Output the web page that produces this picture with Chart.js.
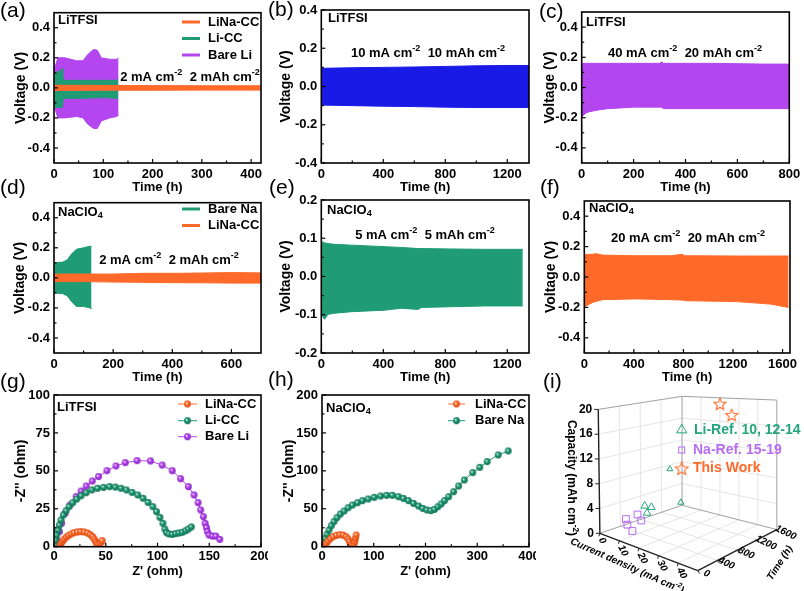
<!DOCTYPE html>
<html><head><meta charset="utf-8">
<script src="https://cdn.jsdelivr.net/npm/chart.js@4.4.1/dist/chart.umd.min.js"></script>
<style>
html,body{margin:0;padding:0;background:#fff;}
#wrap{position:relative;width:804px;height:591px;overflow:hidden;background:#fff;}
#wrap canvas{position:absolute;}
.pl{position:absolute;z-index:5;font-family:"Liberation Sans",Arial,sans-serif;font-size:21px;line-height:22px;color:#000;white-space:nowrap;}
</style></head><body>
<div id="wrap">
<div class="pl" style="left:0px;top:-1px">(a)</div>
<div class="pl" style="left:268px;top:-2px">(b)</div>
<div class="pl" style="left:539px;top:0px">(c)</div>
<div class="pl" style="left:0px;top:176px">(d)</div>
<div class="pl" style="left:269px;top:176px">(e)</div>
<div class="pl" style="left:540px;top:176px">(f)</div>
<div class="pl" style="left:0px;top:370px">(g)</div>
<div class="pl" style="left:268px;top:368px">(h)</div>
<div class="pl" style="left:543px;top:370px">(i)</div>
</div>
<script>
// ================= DATA =================
const vYTicks=[-0.4,-0.2,0,0.2,0.4];
// (a) LiTFSI 2 mA cm-2
const aXTicks=[0,100,200,300,400];
const aBareLiT=[0,8,22,46,59,68,80,88,96,113,128,131];
const aBareLiUp=[0.12,0.2,0.2,0.18,0.18,0.22,0.255,0.25,0.2,0.19,0.19,0.2];
const aBareLiLo=[-0.12,-0.2,-0.2,-0.19,-0.2,-0.24,-0.27,-0.27,-0.22,-0.2,-0.19,-0.18];
const aLiCCT=[0,12,17,18,19,60,100,128,130];
const aLiCCUp=[0.1,0.11,0.13,0.12,0.05,0.05,0.05,0.05,0.06];
const aLiCCLo=[-0.13,-0.13,-0.13,-0.13,-0.07,-0.07,-0.065,-0.07,-0.07];
const aLiNaT=[0,100,200,300,420];
const aLiNaUp=[0.017,0.016,0.015,0.014,0.014];
const aLiNaLo=[-0.017,-0.016,-0.016,-0.015,-0.015];
// (b) LiTFSI 10 mA cm-2
const bXTicks=[0,400,800,1200];
const bT=[0,200,400,600,800,1000,1200,1340];
const bUp=[0.095,0.098,0.1,0.102,0.105,0.108,0.11,0.11];
const bLo=[-0.097,-0.1,-0.103,-0.105,-0.108,-0.11,-0.11,-0.11];
// (c) LiTFSI 40 mA cm-2
const cXTicks=[0,200,400,600,800];
const cT=[0,3,15,30,60,100,150,200,300,310,314,500,700,800];
const cUp=[0.155,0.16,0.16,0.16,0.16,0.16,0.16,0.16,0.16,0.17,0.16,0.16,0.155,0.155];
const cLo=[-0.2,-0.19,-0.17,-0.16,-0.15,-0.14,-0.135,-0.13,-0.13,-0.13,-0.14,-0.14,-0.14,-0.14];
// (d) NaClO4 2 mA cm-2
const dXTicks=[0,200,400,600];
const dBareNaT=[0,30,45,60,76,100,121,127];
const dBareNaUp=[0.1,0.105,0.12,0.16,0.19,0.2,0.21,0.21];
const dBareNaLo=[-0.1,-0.105,-0.12,-0.16,-0.19,-0.19,-0.2,-0.205];
const dLiNaT=[0,100,200,300,400,500,600,700];
const dLiNaUp=[0.025,0.025,0.025,0.03,0.03,0.032,0.035,0.033];
const dLiNaLo=[-0.025,-0.025,-0.028,-0.03,-0.032,-0.033,-0.035,-0.035];
// (e) NaClO4 5 mA cm-2
const eXTicks=[0,400,800,1200];
const eYTicks=[-0.2,-0.1,0,0.1,0.2];
const eT=[0,10,21,43,86,194,409,516,624,645,839,1054,1300];
const eUp=[0.091,0.09,0.088,0.086,0.084,0.082,0.078,0.076,0.073,0.073,0.072,0.071,0.071];
const eLo=[-0.099,-0.105,-0.112,-0.099,-0.096,-0.092,-0.088,-0.083,-0.086,-0.081,-0.079,-0.077,-0.077];
// (f) NaClO4 20 mA cm-2
const fXTicks=[0,400,800,1200,1600];
const fT=[0,14,68,95,149,419,689,797,805,824,1230,1500,1649];
const fUp=[0.144,0.148,0.15,0.153,0.144,0.14,0.14,0.149,0.14,0.14,0.138,0.138,0.138];
const fLo=[-0.2,-0.19,-0.167,-0.16,-0.149,-0.144,-0.149,-0.152,-0.155,-0.156,-0.162,-0.178,-0.2];
// (g) EIS LiTFSI
const gXTicks=[0,50,100,150,200];
const gYTicks=[0,25,50,75,100];
const gLiNaX=[5.8,6.8,8.1,9.7,11.7,13.9,16.5,19.4,22.7,25.9,29.1,32.4,35,37.2,38.8,40.1,41.1,42.1,43.7,45.3,46.6];
const gLiNaY=[0.7,2.2,3.5,4.8,6.2,7.3,8.4,9.2,9.7,9.9,9.7,9,7.9,6.6,5.1,3.5,2.2,1.3,1.5,2.6,4];
const gLiCCX=[1.0,1.6,2.6,3.9,5.2,6.8,9.1,11.7,14.6,18.1,22,26.2,31.1,36.6,42.1,47.9,53.7,59.2,64.7,69.9,75.4,80.9,86.1,90.9,95.5,99,102.3,105.2,107.1,108.7,111,114.2,117.5,120.7,124,127.2,129.8,132.7];
const gLiCCY=[1.1,4.4,7.7,11,14.3,17.6,20.9,23.7,26.4,29,31.4,33.6,35.6,37.4,38.5,39.1,39.6,39.3,38.5,37.4,35.8,34.1,31.9,29.2,26.4,23.1,19.3,15.4,11.6,9.2,8.4,8.1,8.6,9,9.5,10.5,11.6,13];
const gBareLiX=[2.6,5.2,7.4,10.7,15.5,21.4,26.2,31.1,37,43,51.1,59.9,68.9,80.3,93.2,104.5,114.2,122.3,129.8,135.3,139.2,141.7,144.3,146,147.3,148.2,149.8,153,156.3,160.2];
const gBareLiY=[4.4,9.9,15.4,22,27.5,33,36.7,40,43.3,46.2,50.1,53.2,55.4,56.7,56.5,53.8,50.1,44.8,39.6,34.1,29,24.2,19.8,15.4,12.5,9.9,7.7,7,7,4.8];
// (h) EIS NaClO4
const hXTicks=[0,100,200,300,400];
const hYTicks=[0,50,100,150,200];
const hLiNaX=[5.2,8.4,11.7,16.2,21.4,27.8,34.3,40.8,46.6,50.5,53.1,55.7,58.3,61.5,63.4,64.7,66];
const hLiNaY=[1.3,4.4,7.5,10.5,13.2,15,15.8,15.4,13.2,10.1,6.6,3.5,1.8,2.6,6.6,11,15.4];
const hBareNaX=[1.9,3.9,6.5,9.7,13.6,18.1,23.3,29.1,35.6,42.7,50.5,58.9,68.6,78.3,89.3,101,113.3,124.9,135.9,147.6,157.3,167,176.7,186.4,194.8,202.6,210.4,217.5,224,230.4,236.9,244.7,254.4,264.1,275.1,291.3,304.9,319.1,340.5,359.9];
const hBareNaY=[2.2,6.6,11,16.3,22,27.7,33,38.2,43.1,47,51.4,54.9,58,60.7,62.9,65.1,66.8,67.7,67.7,65.9,63.7,60.7,57.1,53.6,50.5,48.4,47.5,49.2,52.7,56.3,60.7,65.9,72.5,80,87.9,97.6,104.6,112.1,120.9,126.2];
// (i) 3D comparison: current density (mA cm-2), time (h), capacity (mAh cm-2)
const iCurTicks=[0,10,20,30,40];
const iTimeTicks=[0,400,800,1200,1600];
const iCapTicks=[0,4,8,12,16,20];
const liRefCurrent=[10,10,10,10,1];
const liRefTime=[480,615,530,970,1540];
const liRefCap=[4.2,3.6,2.9,9,0.8];
const naRefCurrent=[10,5,5,10,10];
const naRefTime=[250,345,315,340,420];
const naRefCap=[0.8,1,2,3.2,2];
const workCurrent=[40,20];
const workTime=[800,1600];
const workCap=[20,19];

// ================= RENDERING =================
const FONTNAME='"Liberation Sans", Arial, sans-serif';
const ORANGE='#ff6a2a', GREEN='#1f9c74', PURPLE='#b446f0', BLUE='#1a1ae6';
const I_GREEN='#23a67c', I_PURPLE='#b86cf2', I_ORANGE='#ff6a2a';
Chart.defaults.font.family=FONTNAME;

function drawRuns(ctx, runs, x, y, size, color, align, weight, style){
  weight=weight||'bold'; style=style||'';
  let w=0;
  const parts=runs.map(r=>{const k=r[1]||0; const fs=k?size*0.7:size; ctx.font=`${style} ${weight} ${fs}px ${FONTNAME}`; const mw=ctx.measureText(r[0]).width; w+=mw; return {t:r[0],k,fs,mw};});
  let sx = align==='center'? x-w/2 : (align==='right'? x-w : x);
  ctx.fillStyle=color; ctx.textBaseline='middle'; ctx.textAlign='left';
  for(const p of parts){ ctx.font=`${style} ${weight} ${p.fs}px ${FONTNAME}`; const dy=p.k===1?-size*0.36:(p.k===-1?size*0.3:0); ctx.fillText(p.t,sx,y+dy); sx+=p.mw; }
}

const DECO={};
Chart.register({
  id:'deco',
  beforeDatasetsDraw(chart){const d=DECO[chart.canvas.id]; if(d&&d.before){chart.ctx.save(); d.before(chart); chart.ctx.restore();}},
  afterDatasetsDraw(chart){
    const d=DECO[chart.canvas.id]; if(!d) return; const ctx=chart.ctx; ctx.save();
    if(d.frame){
      const a=chart.chartArea;
      ctx.strokeStyle='#000'; ctx.lineWidth=1.6; ctx.strokeRect(a.left,a.top,a.right-a.left,a.bottom-a.top);
      ctx.lineWidth=1.2;
      ['x','y'].forEach(k=>{const s=chart.scales[k]; const tv=s.ticks.map(t=>t.value);
        const tick=(v,len)=>{const p=s.getPixelForValue(v); ctx.beginPath();
          if(k==='x'){ctx.moveTo(p,a.bottom);ctx.lineTo(p,a.bottom-len);} else {ctx.moveTo(a.left,p);ctx.lineTo(a.left+len,p);} ctx.stroke();};
        tv.forEach(v=>tick(v,4));
        for(let i=0;i<tv.length-1;i++) tick((tv[i]+tv[i+1])/2,2.5);
      });
    }
    (d.texts||[]).forEach(t=>drawRuns(ctx,t.runs,t.x-d.ox,t.y-d.oy,t.size,t.color||'#000',t.align||'left'));
    (d.legend||[]).forEach(l=>{
      const y=l.y-d.oy;
      ctx.strokeStyle=l.color; ctx.lineWidth=l.lw; ctx.beginPath(); ctx.moveTo(l.x1-d.ox,y); ctx.lineTo(l.x2-d.ox,y); ctx.stroke();
      if(l.img) ctx.drawImage(l.img,(l.x1+l.x2)/2-d.ox-l.img.width/2,y-l.img.height/2);
      drawRuns(ctx,[[l.text,0]],l.tx-d.ox,y,13,'#000','left');
    });
    if(d.after) d.after(chart);
    ctx.restore();
  }
});

const wrap=document.getElementById('wrap');
function mkCanvas(id,r){const c=document.createElement('canvas');c.id=id;c.width=r.w;c.height=r.h;
  Object.assign(c.style,{left:r.x+'px',top:r.y+'px',width:r.w+'px',height:r.h+'px'});wrap.appendChild(c);return c;}

function xyChart(id,r,A,ax,datasets,deco){
  const c=mkCanvas(id,r);
  deco.ox=r.x; deco.oy=r.y; deco.frame=true; DECO[id]=deco;
  const yw=A.L-r.x, xh=r.y+r.h-A.B;
  const tickFont={family:FONTNAME,size:13,weight:'bold'};
  return new Chart(c,{type:'line',data:{datasets},options:{
    responsive:false,animation:false,devicePixelRatio:1,
    layout:{padding:{left:0,top:A.T-r.y,right:r.x+r.w-A.R,bottom:0}},
    plugins:{legend:{display:false},tooltip:{enabled:false}},
    elements:{line:{tension:0}},
    scales:{
      x:{type:'linear',min:ax.xmin,max:ax.xmax,
        afterBuildTicks:s=>{s.ticks=ax.xticks.map(v=>({value:v}));},
        afterFit:s=>{s.height=xh;s.paddingLeft=0;s.paddingRight=0;},
        grid:{display:false,drawOnChartArea:false,drawTicks:false},
        border:{display:false},
        ticks:{autoSkip:false,maxRotation:0,minRotation:0,padding:ax.xpad,color:'#000',font:tickFont,callback:v=>String(v)},
        title:{display:true,text:ax.xtitle,color:'#000',font:{family:FONTNAME,size:13,weight:'bold'},padding:{top:0,bottom:0}}},
      y:{type:'linear',min:ax.ymin,max:ax.ymax,
        afterBuildTicks:s=>{s.ticks=ax.yticks.map(v=>({value:v}));},
        afterFit:s=>{s.width=yw;s.paddingTop=0;s.paddingBottom=0;},
        grid:{display:false,drawOnChartArea:false,drawTicks:false},
        border:{display:false},
        ticks:{autoSkip:false,padding:4,color:'#000',font:tickFont,callback:v=>Number(v).toFixed(ax.ydec)},
        title:{display:true,text:ax.ytitle,color:'#000',font:{family:FONTNAME,size:14,weight:'bold'},padding:{top:ax.ytx-r.x-8.4,bottom:0}}}
    }}});
}

function band(t,up,lo,color){
  return [
    {data:t.map((x,i)=>({x,y:up[i]})),borderColor:color,backgroundColor:color,borderWidth:1,pointRadius:0,fill:false},
    {data:t.map((x,i)=>({x,y:lo[i]})),borderColor:color,backgroundColor:color,borderWidth:1,pointRadius:0,fill:'-1'}
  ];
}
function ballImg(color,dark,r){
  const s=Math.ceil(r*2)+2; const c=document.createElement('canvas'); c.width=c.height=s; const g=c.getContext('2d');
  const cx=s/2; const grd=g.createRadialGradient(cx-r*0.35,cx-r*0.35,0,cx,cx,r);
  grd.addColorStop(0,'#ffffff'); grd.addColorStop(0.45,color); grd.addColorStop(1,dark);
  g.fillStyle=grd; g.beginPath(); g.arc(cx,cx,r,0,Math.PI*2); g.fill(); return c;
}
function nyq(xs,ys,color,img){
  return {data:xs.map((x,i)=>({x,y:ys[i]})),borderColor:color,backgroundColor:color,borderWidth:1,pointStyle:img,pointRadius:3.4,fill:false,showLine:true};
}
const ballO=ballImg(ORANGE,'#d94a10',3.4), ballG=ballImg(GREEN,'#0f6e50',3.4), ballP=ballImg(PURPLE,'#8520c0',3.4);

const VT='Voltage (V)', TT='Time (h)';
const VLabel=(name,x,y)=>({x,y,size:13,runs:name==='Na'?[['NaClO',0],['4',-1]]:[['LiTFSI',0]]});
const ann=(a,b,x,y)=>({x,y,size:13,align:'center',runs:[[a+' mA cm',0],['-2',1],['  '+b+' mAh cm',0],['-2',1]]});

// (a)
xyChart('ca',{x:0,y:0,w:268,h:195},{L:54,T:12.7,R:261,B:163},
  {xmin:0,xmax:420,xticks:aXTicks,xpad:4,ymin:-0.5,ymax:0.5,yticks:vYTicks,ydec:1,xtitle:TT,ytitle:VT,ytx:21},
  [...band(aLiNaT,aLiNaUp,aLiNaLo,ORANGE),...band(aLiCCT,aLiCCUp,aLiCCLo,GREEN),...band(aBareLiT,aBareLiUp,aBareLiLo,PURPLE)],
  {texts:[VLabel('Li',58,20),ann('2','2',190,77)],
   legend:[{x1:182,x2:200,y:22,lw:3,color:ORANGE,text:'LiNa-CC',tx:208},{x1:182,x2:200,y:38.5,lw:3,color:GREEN,text:'Li-CC',tx:208},{x1:182,x2:200,y:55,lw:3,color:PURPLE,text:'Bare Li',tx:208}]});
// (b)
xyChart('cb',{x:268,y:0,w:268,h:195},{L:321.3,T:10,R:529,B:163},
  {xmin:0,xmax:1340,xticks:bXTicks,xpad:4,ymin:-0.4,ymax:0.4,yticks:vYTicks,ydec:1,xtitle:TT,ytitle:VT,ytx:286},
  [...band(bT,bUp,bLo,BLUE)],
  {texts:[VLabel('Li',328,18),ann('10','10',428,53)]});
// (c)
xyChart('cc',{x:536,y:0,w:268,h:195},{L:581.7,T:12,R:789.3,B:163},
  {xmin:0,xmax:800,xticks:cXTicks,xpad:4,ymin:-0.5,ymax:0.5,yticks:vYTicks,ydec:1,xtitle:TT,ytitle:VT,ytx:550},
  [...band(cT,cUp,cLo,PURPLE)],
  {texts:[VLabel('Li',586,22),ann('40','20',685,53)]});
// (d)
xyChart('cd',{x:0,y:190,w:268,h:195},{L:54,T:202.7,R:261,B:353},
  {xmin:0,xmax:700,xticks:dXTicks,xpad:4,ymin:-0.5,ymax:0.5,yticks:vYTicks,ydec:1,xtitle:TT,ytitle:VT,ytx:20},
  [...band(dLiNaT,dLiNaUp,dLiNaLo,ORANGE),...band(dBareNaT,dBareNaUp,dBareNaLo,GREEN)],
  {texts:[VLabel('Na',58,212),ann('2','2',169,260)],
   legend:[{x1:182,x2:200,y:209,lw:3,color:GREEN,text:'Bare Na',tx:208},{x1:182,x2:200,y:225.5,lw:3,color:ORANGE,text:'LiNa-CC',tx:208}]});
// (e)
xyChart('ce',{x:268,y:190,w:268,h:195},{L:321.3,T:200,R:529,B:353},
  {xmin:0,xmax:1340,xticks:eXTicks,xpad:4,ymin:-0.2,ymax:0.2,yticks:eYTicks,ydec:1,xtitle:TT,ytitle:VT,ytx:286},
  [...band(eT,eUp,eLo,GREEN)],
  {texts:[VLabel('Na',327,210),ann('5','5',425,235)]});
// (f)
xyChart('cf',{x:536,y:190,w:268,h:195},{L:584.3,T:201,R:790,B:353},
  {xmin:0,xmax:1660,xticks:fXTicks,xpad:4,ymin:-0.5,ymax:0.5,yticks:vYTicks,ydec:1,xtitle:TT,ytitle:VT,ytx:551},
  [...band(fT,fUp,fLo,ORANGE)],
  {texts:[VLabel('Na',589,208),ann('20','20',688,238)]});
// (g)
xyChart('cg',{x:0,y:380,w:268,h:199},{L:54,T:395,R:261,B:546.7},
  {xmin:0,xmax:200,xticks:gXTicks,xpad:2,ymin:0,ymax:100,yticks:gYTicks,ydec:0,xtitle:"Z' (ohm)",ytitle:"-Z'' (ohm)",ytx:21},
  [nyq(gLiNaX,gLiNaY,ORANGE,ballO),nyq(gLiCCX,gLiCCY,GREEN,ballG),nyq(gBareLiX,gBareLiY,PURPLE,ballP)],
  {texts:[VLabel('Li',57,407)],
   legend:[{x1:178,x2:197,y:404,lw:1,color:ORANGE,img:ballO,text:'LiNa-CC',tx:205},{x1:178,x2:197,y:420.7,lw:1,color:GREEN,img:ballG,text:'Li-CC',tx:205},{x1:178,x2:197,y:436.7,lw:1,color:PURPLE,img:ballP,text:'Bare Li',tx:205}]});
// (h)
xyChart('ch',{x:268,y:380,w:268,h:199},{L:322,T:395,R:529,B:546.7},
  {xmin:0,xmax:400,xticks:hXTicks,xpad:2,ymin:0,ymax:200,yticks:hYTicks,ydec:0,xtitle:"Z' (ohm)",ytitle:"-Z'' (ohm)",ytx:289},
  [nyq(hLiNaX,hLiNaY,ORANGE,ballO),nyq(hBareNaX,hBareNaY,GREEN,ballG)],
  {texts:[VLabel('Na',326,408)],
   legend:[{x1:448,x2:465,y:404,lw:1,color:ORANGE,img:ballO,text:'LiNa-CC',tx:475},{x1:448,x2:465,y:420.7,lw:1,color:GREEN,img:ballG,text:'Bare Na',tx:475}]});

// (i) 3D box projection (panel-local pixel space)
const BOX={cmax:50,tmax:1600,zmax:20};
const CB={L:[60,156.7],F:[163.3,196.7],B:[146.7,126.7],R:[246.7,152.7]};
const CT={L:[58.3,24],F:[199.7,52.3],B:[146.7,10],R:[246.7,14]};
function bil(Q,u,v,k){return Q.L[k]*(1-u)*(1-v)+Q.F[k]*u*(1-v)+Q.B[k]*(1-u)*v+Q.R[k]*u*v;}
function proj(c,t,z){const u=c/BOX.cmax,v=t/BOX.tmax,w=z/BOX.zmax;
  const bx=bil(CB,u,v,0),by=bil(CB,u,v,1),tx=bil(CT,u,v,0),ty=bil(CT,u,v,1);
  return {x:bx+(tx-bx)*w,y:by+(ty-by)*w};}
function starImg(color,R){const s=Math.ceil(R*2+3);const c=document.createElement('canvas');c.width=c.height=s;const g=c.getContext('2d');
  const cx=s/2,cy=s/2+R*0.1;g.beginPath();for(let i=0;i<10;i++){const r=i%2?R*0.45:R;const a=-Math.PI/2+i*Math.PI/5;const px=cx+r*Math.cos(a),py=cy+r*Math.sin(a);i?g.lineTo(px,py):g.moveTo(px,py);}
  g.closePath();g.strokeStyle=color;g.lineWidth=1.1;g.stroke();return c;}
const starS=starImg(I_ORANGE,6.3), starL=starImg(I_ORANGE,6.8);

function iP(chart,c,t,z){const p=proj(c,t,z);return [chart.scales.x.getPixelForValue(p.x),chart.scales.y.getPixelForValue(p.y)];}
function drawBox(chart){
  const ctx=chart.ctx; const P=(c,t,z)=>iP(chart,c,t,z);
  const line=(a,b,col,w)=>{ctx.beginPath();ctx.moveTo(a[0],a[1]);ctx.lineTo(b[0],b[1]);ctx.strokeStyle=col;ctx.lineWidth=w;ctx.stroke();};
  const GRID='#dedede',EDGE='#a0a0a0',AX='#222',{cmax,tmax,zmax}=BOX;
  iCurTicks.slice(1).forEach(c=>{line(P(c,0,0),P(c,tmax,0),GRID,0.8);line(P(c,tmax,0),P(c,tmax,zmax),GRID,0.8);});
  iTimeTicks.slice(1,-1).forEach(t=>{line(P(0,t,0),P(cmax,t,0),GRID,0.8);line(P(0,t,0),P(0,t,zmax),GRID,0.8);});
  iCapTicks.slice(1,-1).forEach(z=>{line(P(0,0,z),P(0,tmax,z),GRID,0.8);line(P(0,tmax,z),P(cmax,tmax,z),GRID,0.8);});
  line(P(0,0,zmax),P(0,tmax,zmax),EDGE,1); line(P(0,tmax,0),P(0,tmax,zmax),EDGE,1);
  line(P(0,tmax,zmax),P(cmax,tmax,zmax),EDGE,1); line(P(cmax,tmax,0),P(cmax,tmax,zmax),EDGE,1);
  line(P(0,0,0),P(0,tmax,0),EDGE,1); line(P(0,tmax,0),P(cmax,tmax,0),EDGE,1);
  line(P(0,0,0),P(0,0,zmax),AX,1.4); line(P(0,0,0),P(cmax,0,0),AX,1.4); line(P(cmax,0,0),P(cmax,tmax,0),AX,1.4);
  iCapTicks.forEach(z=>{const p=P(0,0,z);line(p,[p[0]-4,p[1]],AX,1);});
  iCurTicks.forEach(c=>{const p=P(c,0,0);line(p,[p[0]-1,p[1]+3],AX,1);});
  iTimeTicks.forEach(t=>{const p=P(cmax,t,0);line(p,[p[0]+2,p[1]+3],AX,1);});
}
function boxText(chart){
  const ctx=chart.ctx; const P=(c,t,z)=>iP(chart,c,t,z);
  iCapTicks.forEach(z=>{const p=P(0,0,z);drawRuns(ctx,[[String(z),0]],p[0]-6,p[1],12,'#000','right');});
  ctx.save();ctx.translate(35,98);ctx.rotate(Math.PI/2);drawRuns(ctx,[['Capacity (mAh cm',0],['-2',1],[')',0]],0,0,12,'#000','center');ctx.restore();
  iCurTicks.forEach(c=>{const p=P(c,0,0);ctx.save();ctx.translate(p[0]+1,p[1]+5);ctx.rotate(1.1);drawRuns(ctx,[[String(c),0]],0,0,10,'#000','left','bold','italic');ctx.restore();});
  ctx.save();ctx.translate(91,186);ctx.rotate(0.42);drawRuns(ctx,[['Current density (mA cm',0],['-2',1],[')',0]],0,0,10,'#000','center','bold','italic');ctx.restore();
  iTimeTicks.forEach(t=>{const p=P(BOX.cmax,t,0);ctx.save();ctx.translate(p[0]+9,p[1]+3);ctx.rotate(0.45);drawRuns(ctx,[[String(t),0]],0,0,10,'#000','center','bold','italic');ctx.restore();});
  ctx.save();ctx.translate(244,183);ctx.rotate(-1.0);drawRuns(ctx,[['Time (h)',0]],0,0,10,'#000','center','bold','italic');ctx.restore();
  // legend
  ctx.strokeStyle=I_GREEN;ctx.lineWidth=1;ctx.beginPath();const r=5.8,lx=145.7,ly=50;
  ctx.moveTo(lx,ly-r);ctx.lineTo(lx+r*0.866,ly+r*0.5);ctx.lineTo(lx-r*0.866,ly+r*0.5);ctx.closePath();ctx.stroke();
  drawRuns(ctx,[['Li-Ref. 10, 12-14',0]],158,50,14,I_GREEN,'left');
  ctx.strokeStyle=I_PURPLE;ctx.strokeRect(142.7,67,6,6);
  drawRuns(ctx,[['Na-Ref. 15-19',0]],157,70,14,I_PURPLE,'left');
  ctx.drawImage(starL,145.7-starL.width/2,88.3-starL.height/2);
  drawRuns(ctx,[['This Work',0]],157,88.3,14,I_ORANGE,'left');
}
(function(){
  const r={x:536,y:380,w:268,h:211};
  const c=mkCanvas('ci',r);
  DECO.ci={ox:r.x,oy:r.y,frame:false,before:drawBox,after:boxText};
  const pts=(cs,ts,zs)=>cs.map((cv,i)=>proj(cv,ts[i],zs[i]));
  new Chart(c,{type:'scatter',data:{datasets:[
    {data:pts(workCurrent,workTime,workCap),pointStyle:starS,pointRadius:6,showLine:false},
    {data:pts(liRefCurrent,liRefTime,liRefCap),pointStyle:'triangle',pointRadius:[4.4,4.4,4.4,3.4,3.6],pointBorderColor:I_GREEN,pointBackgroundColor:'rgba(255,255,255,0)',pointBorderWidth:1,showLine:false},
    {data:pts(naRefCurrent,naRefTime,naRefCap),pointStyle:'rect',pointRadius:4.8,pointBorderColor:I_PURPLE,pointBackgroundColor:'rgba(255,255,255,0)',pointBorderWidth:1,showLine:false}
  ]},options:{responsive:false,animation:false,devicePixelRatio:1,layout:{padding:0},
    plugins:{legend:{display:false},tooltip:{enabled:false}},
    scales:{x:{type:'linear',display:false,min:0,max:268},y:{type:'linear',display:false,min:0,max:211,reverse:true}}}});
})();
</script>
</body></html>
